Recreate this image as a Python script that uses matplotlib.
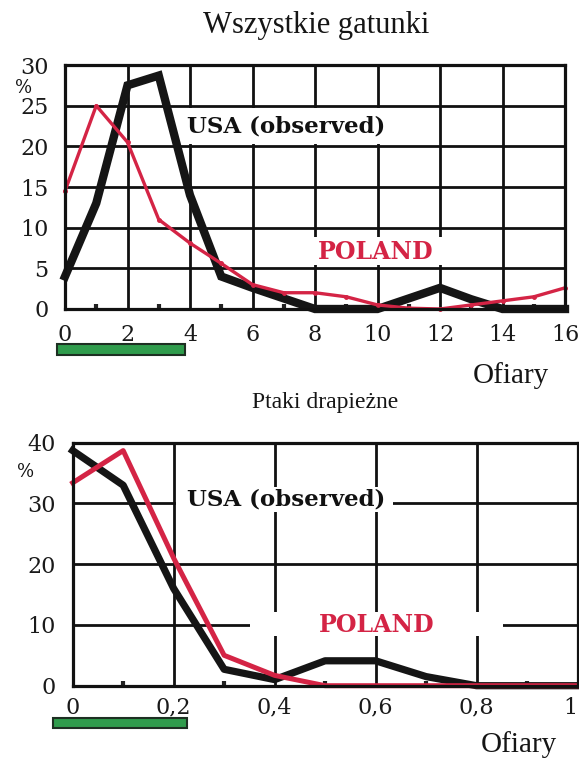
import matplotlib
matplotlib.use("Agg")
import matplotlib.pyplot as plt
from matplotlib.patches import Rectangle
import matplotlib.transforms as mtransforms

# ---------------- data ----------------
top_title = "Wszystkie gatunki"
top_x = [0, 1, 2, 3, 4, 5, 6, 7, 8, 9, 10, 11, 12, 13, 14, 15, 16]
top_usa = [4, 13, 27.5, 28.7, 14, 4, 2.6, 1.3, 0, 0, 0, 1.3, 2.6, 1.2, 0, 0, 0]
top_poland = [14.5, 25, 20.5, 11, 8.1, 5.6, 3, 2, 2, 1.5, 0.5, 0.1, 0, 0.5, 1, 1.5, 2.6]
top_xticks = [0, 2, 4, 6, 8, 10, 12, 14, 16]
top_xticklabels = ["0", "2", "4", "6", "8", "10", "12", "14", "16"]
top_yticks = [0, 5, 10, 15, 20, 25, 30]
top_green = (-0.25, 3.85)

bot_title = "Ptaki drapieżne"
bot_x = [0, 0.1, 0.2, 0.3, 0.4, 0.5, 0.6, 0.7, 0.8, 0.9, 1.0]
bot_usa = [38.7, 33, 16, 2.7, 1, 4.1, 4.1, 1.5, 0, 0, 0]
bot_poland = [33.4, 38.7, 21, 5, 1.7, 0, 0, 0, 0, 0, 0]
bot_xticks = [0, 0.2, 0.4, 0.6, 0.8, 1.0]
bot_xticklabels = ["0", "0,2", "0,4", "0,6", "0,8", "1"]
bot_yticks = [0, 10, 20, 30, 40]
bot_green = (-0.04, 0.226)

xlabel = "Ofiary"
ylabel = "%"
usa_label = "USA (observed)"
pol_label = "POLAND"

RED = "#d42445"
GREEN = "#2f9c4c"
W, H = 579, 758

fig = plt.figure(figsize=(W / 100, H / 100), dpi=100)
fig.patch.set_facecolor("white")


def px_axes(l, t, r, b):
    return fig.add_axes([l / W, 1 - b / H, (r - l) / W, (b - t) / H])


def setup(ax, xlim, ylim, xticks, xticklabels, yticks, minor, xpad):
    ax.set_xlim(*xlim)
    ax.set_ylim(*ylim)
    ax.set_xticks(xticks)
    ax.set_xticklabels(xticklabels)
    ax.set_yticks(yticks)
    ax.set_xticks(minor, minor=True)
    for s in ax.spines.values():
        s.set_linewidth(2.3)
        s.set_color("#111111")
        s.set_zorder(5)
    ax.grid(True, which="major", color="#111111", linewidth=2.0, zorder=1)
    ax.set_axisbelow(True)
    ax.tick_params(which="major", length=0, labelsize=16, colors="#1a1a1a")
    ax.tick_params(axis="x", which="major", pad=xpad)
    ax.tick_params(axis="y", which="major", pad=12)
    ax.tick_params(which="minor", direction="in", length=3.5, width=3, color="#222222",
                   top=False, left=False)
    for lab in ax.get_xticklabels() + ax.get_yticklabels():
        lab.set_fontfamily("DejaVu Serif")


# ---------------- top panel ----------------
ax1 = px_axes(65, 65, 565, 309)
setup(ax1, (0, 16), (0, 30), top_xticks, top_xticklabels, top_yticks,
      [1, 3, 5, 7, 9, 11, 13, 15], 11)
ax1.add_patch(Rectangle((3.6, 20.3), 7.0, 4.4, facecolor="white", edgecolor="none", zorder=2))
ax1.add_patch(Rectangle((7.7, 5.4), 4.5, 3.5, facecolor="white", edgecolor="none", zorder=2))
ax1.plot(top_x, top_usa, color="#151515", linewidth=6.0, solid_joinstyle="miter",
         zorder=3, clip_on=False)
ax1.plot(top_x, top_poland, color=RED, linewidth=2.4, zorder=4, clip_on=False,
         marker="o", markersize=2.5)
ax1.text(7.07, 22.4, usa_label, fontsize=16.5, fontweight="bold", family="DejaVu Serif",
         ha="center", va="center", color="#111111", zorder=6)
ax1.text(9.95, 7.0, pol_label, fontsize=17, fontweight="bold", family="DejaVu Serif",
         ha="center", va="center", color=RED, zorder=6)
tr1 = mtransforms.blended_transform_factory(ax1.transData, ax1.transAxes)
ax1.add_patch(Rectangle((top_green[0], -0.189), top_green[1] - top_green[0], 0.046,
                        transform=tr1, facecolor=GREEN, edgecolor="#1d2f22",
                        linewidth=1.5, clip_on=False))
fig.text(316 / W, 1 - 26 / H, top_title, fontsize=22, family="Liberation Serif",
         ha="center", va="center", color="#151515")
fig.text(511 / W, 1 - 376 / H, xlabel, fontsize=21, family="Liberation Serif",
         ha="center", va="center", color="#151515")
fig.text(24 / W, 1 - 88 / H, ylabel, fontsize=13, family="DejaVu Serif",
         ha="center", va="center", color="#151515")

# ---------------- bottom panel ----------------
ax2 = px_axes(72.7, 442.7, 577.5, 685.7)
setup(ax2, (0, 1), (0, 40), bot_xticks, bot_xticklabels, bot_yticks,
      [0.1, 0.3, 0.5, 0.7, 0.9], 8)
ax2.get_xticklabels()[-1].set_horizontalalignment("right")
ax2.add_patch(Rectangle((0.205, 28.6), 0.43, 4.1, facecolor="white", edgecolor="none", zorder=2))
ax2.add_patch(Rectangle((0.351, 8.1), 0.501, 4.1, facecolor="white", edgecolor="none", zorder=2))
ax2.plot(bot_x, bot_usa, color="#151515", linewidth=5.2, zorder=3, clip_on=False)
ax2.plot(bot_x, bot_poland, color=RED, linewidth=3.6, zorder=4, clip_on=False)
ax2.text(0.422, 30.6, usa_label, fontsize=16.5, fontweight="bold", family="DejaVu Serif",
         ha="center", va="center", color="#111111", zorder=6)
ax2.text(0.603, 10.0, pol_label, fontsize=17, fontweight="bold", family="DejaVu Serif",
         ha="center", va="center", color=RED, zorder=6)
tr2 = mtransforms.blended_transform_factory(ax2.transData, ax2.transAxes)
ax2.add_patch(Rectangle((bot_green[0], -0.174), bot_green[1] - bot_green[0], 0.042,
                        transform=tr2, facecolor=GREEN, edgecolor="#1d2f22",
                        linewidth=1.5, clip_on=False))
fig.text(325 / W, 1 - 402 / H, bot_title, fontsize=17, family="Liberation Serif",
         ha="center", va="center", color="#151515")
fig.text(519 / W, 1 - 745 / H, xlabel, fontsize=21, family="Liberation Serif",
         ha="center", va="center", color="#151515")
fig.text(26 / W, 1 - 472 / H, ylabel, fontsize=13, family="DejaVu Serif",
         ha="center", va="center", color="#151515")

fig.savefig("out.png", dpi=100, facecolor="white")
